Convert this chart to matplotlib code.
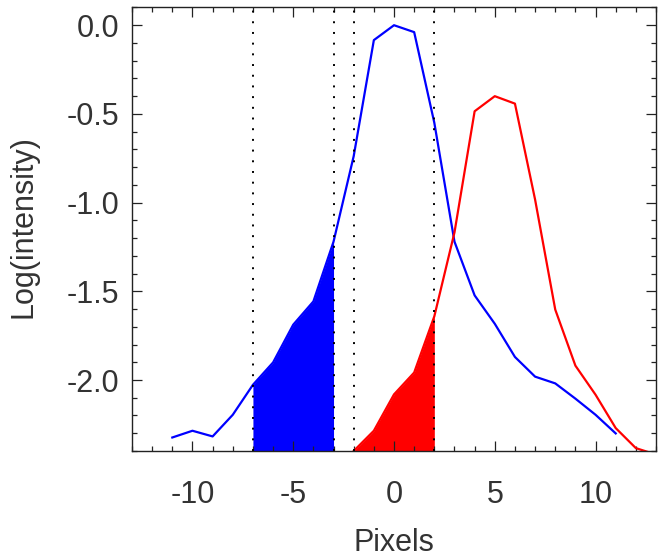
import matplotlib.pyplot as plt
import numpy as np
from matplotlib.ticker import MultipleLocator

# blue profile
blue_x = [-11, -10, -9, -8, -7, -6, -5, -4, -3, -2, -1, 0, 1, 2, 3, 4, 5, 6, 7, 8, 9, 10, 11]
blue_y = [-2.324, -2.286, -2.318, -2.196, -2.027, -1.901, -1.688, -1.557, -1.22, -0.738,
          -0.084, 0.0, -0.039, -0.55, -1.22, -1.523, -1.683, -1.870, -1.981, -2.019,
          -2.105, -2.196, -2.301]

# red profile
red_x = [-2, -1, 0, 1, 2, 3, 4, 5, 6, 7, 8, 9, 10, 11, 12, 13]
red_y = [-2.40, -2.286, -2.081, -1.958, -1.641, -1.168, -0.485, -0.400, -0.442, -0.983,
         -1.603, -1.919, -2.083, -2.271, -2.384, -2.42]

# dotted limits and shaded windows
vlines = [-7, -3, -2, 2]
blue_win = (-7, -3)
red_win = (-2, 2)

ymin, ymax = -2.4, 0.1
ink = '#222222'
txt = '#333333'

plt.rcParams['font.family'] = ['Liberation Sans', 'DejaVu Sans']

fig = plt.figure(figsize=(6.58, 5.58), dpi=100)
ax = fig.add_axes([0.2006, 0.1918, 0.7964, 0.7948])

bx = np.array(blue_x)
by = np.array(blue_y)
rx = np.array(red_x)
ry = np.array(red_y)

m = (bx >= blue_win[0]) & (bx <= blue_win[1])
ax.fill_between(bx[m], by[m], ymin, color='blue', linewidth=0)
m = (rx >= red_win[0]) & (rx <= red_win[1])
ax.fill_between(rx[m], ry[m], ymin, color='red', linewidth=0)

ax.plot(bx, by, color='blue', linewidth=1.6)
ax.plot(rx, ry, color='red', linewidth=1.6)

for v in vlines:
    ax.axvline(v, color='black', linestyle=(0, (1, 4.5)), linewidth=1.4)

ax.set_xlim(-13, 13)
ax.set_ylim(ymin, ymax)

ax.xaxis.set_minor_locator(MultipleLocator(1))
ax.yaxis.set_minor_locator(MultipleLocator(0.1))
ax.set_yticks([0.0, -0.5, -1.0, -1.5, -2.0])
ax.set_yticklabels(['0.0', '-0.5', '-1.0', '-1.5', '-2.0'])
ax.set_xticks([-10, -5, 0, 5, 10])
ax.set_xticklabels(['-10', '-5', '0', '5', '10'])

ax.tick_params(which='both', direction='in', top=True, right=True,
               color=ink, width=0.9, labelsize=22, labelcolor=txt)
ax.tick_params(which='major', length=7.2)
ax.tick_params(which='minor', length=3.6)
ax.tick_params(axis='x', which='major', pad=21)
ax.tick_params(axis='y', which='major', pad=9)

for s in ax.spines.values():
    s.set_color(ink)
    s.set_linewidth(1.0)

ax.set_xlabel('Pixels', fontsize=22, color=txt, labelpad=13)
ax.set_ylabel('Log(intensity)', fontsize=22, color=txt)
ax.yaxis.set_label_coords(-0.178, 0.507)

fig.savefig('out.png', dpi=100)
